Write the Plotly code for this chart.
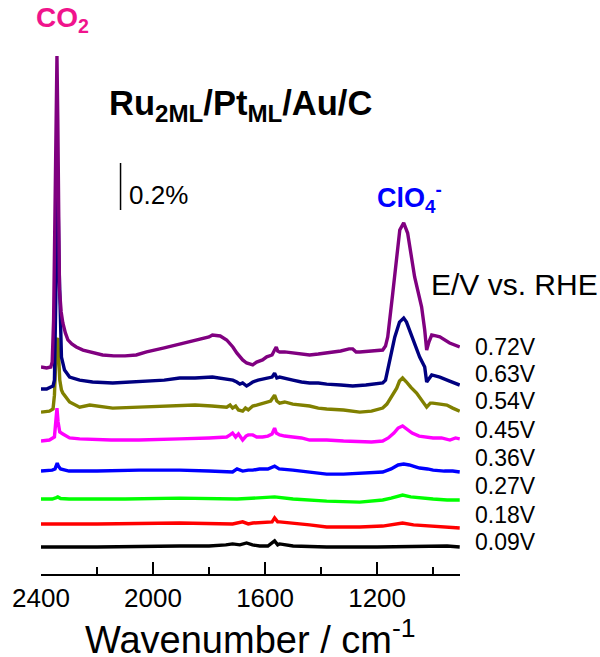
import plotly.graph_objects as go

# ---------------- data (relative signal in %, wavenumber in cm-1) ----------------
potentials = ["0.09V", "0.18V", "0.27V", "0.36V", "0.45V", "0.54V", "0.63V", "0.72V"]
colors = ["#000000", "#FF0000", "#00FF00", "#0000FF", "#FF00FF", "#808000", "#000080", "#800080"]
offsets = [0.115, 0.213, 0.319, 0.438, 0.566, 0.689, 0.787, 0.881]

wn_009 = [2400, 2200, 1905, 1800, 1740, 1716, 1690, 1666, 1645, 1619, 1590, 1566, 1555, 1548, 1500, 1380, 1200, 1050, 950, 905]
val_009 = [0, 0, 0.004, 0.004, 0.009, 0.013, 0.009, 0.017, 0.009, 0.004, 0.004, 0.026, 0.009, 0.013, 0.004, 0, 0, 0.004, 0.004, 0]

wn_018 = [2400, 2200, 1905, 1716, 1680, 1660, 1644, 1600, 1575, 1566, 1555, 1548, 1500, 1441, 1380, 1262, 1180, 1140, 1109, 1070, 1020, 960, 905]
val_018 = [0, 0, 0.004, 0, 0.009, 0, 0.004, 0.009, 0.009, 0.026, 0.009, 0.009, 0.004, -0.004, -0.013, -0.013, -0.009, 0, 0.004, -0.004, -0.009, -0.013, -0.017]

wn_027 = [2400, 2360, 2345, 2340, 2330, 2300, 2100, 1905, 1700, 1566, 1500, 1380, 1262, 1180, 1150, 1125, 1109, 1080, 1048, 1000, 950, 905]
val_027 = [0, 0, 0.006, 0.009, 0.002, 0, 0, 0.004, 0, 0.009, 0, -0.009, -0.013, -0.004, 0.004, 0.013, 0.017, 0.009, 0.004, 0, -0.004, -0.004]

wn_036 = [2400, 2360, 2350, 2345, 2342, 2338, 2330, 2300, 2200, 2050, 1905, 1800, 1716, 1700, 1680, 1660, 1644, 1620, 1590, 1566, 1550, 1501, 1441, 1380, 1320, 1262, 1220, 1180, 1150, 1125, 1105, 1085, 1060, 1048, 1020, 1000, 960, 930, 905]
val_036 = [0, 0.004, 0.009, 0.026, 0.034, 0.021, 0.009, 0, 0, 0.004, 0.004, 0, -0.004, 0.009, 0, 0.004, 0.004, 0.009, 0.009, 0.021, 0.009, 0.004, -0.004, -0.013, -0.013, -0.009, -0.009, -0.004, 0.009, 0.026, 0.030, 0.026, 0.017, 0.013, 0.009, 0.004, 0, 0, -0.004]

wn_045 = [2400, 2370, 2352, 2347, 2343, 2339, 2333, 2322, 2298, 2262, 2150, 2050, 1960, 1905, 1800, 1737, 1725, 1716, 1705, 1695, 1680, 1668, 1660, 1644, 1630, 1609, 1590, 1575, 1566, 1560, 1548, 1530, 1501, 1470, 1441, 1410, 1380, 1320, 1262, 1220, 1180, 1160, 1140, 1125, 1109, 1095, 1075, 1050, 1023, 1000, 970, 940, 920, 905]
val_045 = [0, 0.004, 0.017, 0.068, 0.140, 0.081, 0.038, 0.030, 0.013, 0.009, 0.004, 0.004, 0.009, 0.009, 0.013, 0.017, 0.026, 0.034, 0.017, 0.030, 0.004, 0.021, 0.026, 0.026, 0.017, 0.017, 0.021, 0.030, 0.055, 0.034, 0.026, 0.021, 0.017, 0.013, 0.004, 0.004, 0.004, 0, -0.004, -0.004, 0, 0.013, 0.034, 0.055, 0.064, 0.051, 0.034, 0.021, 0.017, 0.013, 0.013, 0.004, 0.013, 0.009]

wn_054 = [2400, 2370, 2357, 2352, 2348, 2344, 2340, 2337, 2333, 2327, 2322, 2298, 2262, 2226, 2144, 2050, 1960, 1905, 1850, 1790, 1737, 1725, 1716, 1705, 1695, 1680, 1670, 1660, 1644, 1630, 1619, 1600, 1580, 1566, 1558, 1548, 1530, 1501, 1470, 1441, 1410, 1380, 1320, 1262, 1220, 1180, 1165, 1145, 1130, 1120, 1109, 1095, 1080, 1059, 1040, 1023, 1010, 1001, 975, 951, 930, 905]
val_054 = [0, 0.004, 0.013, 0.072, 0.200, 0.306, 0.315, 0.221, 0.136, 0.094, 0.081, 0.043, 0.021, 0.030, 0.017, 0.021, 0.026, 0.026, 0.030, 0.026, 0.021, 0.030, 0.017, 0.026, 0.009, 0.004, 0.017, 0.009, 0.026, 0.030, 0.034, 0.038, 0.047, 0.072, 0.047, 0.038, 0.043, 0.034, 0.030, 0.026, 0.017, 0.013, 0.009, 0, 0.004, 0.017, 0.034, 0.077, 0.102, 0.132, 0.145, 0.128, 0.106, 0.081, 0.051, 0.021, 0.038, 0.038, 0.034, 0.030, 0.017, 0.004]

wn_063 = [2400, 2380, 2365, 2357, 2352, 2348, 2344, 2340, 2336, 2332, 2327, 2316, 2298, 2262, 2216, 2144, 2080, 2023, 1960, 1905, 1850, 1788, 1737, 1715, 1701, 1690, 1680, 1666, 1655, 1644, 1625, 1594, 1575, 1566, 1558, 1548, 1530, 1501, 1470, 1441, 1410, 1380, 1330, 1287, 1240, 1180, 1170, 1162, 1150, 1137, 1120, 1105, 1095, 1084, 1066, 1048, 1030, 1023, 1005, 976, 941, 905]
val_063 = [0, 0, 0.009, 0.013, 0.038, 0.294, 0.677, 0.889, 0.549, 0.294, 0.136, 0.081, 0.051, 0.038, 0.030, 0.026, 0.030, 0.034, 0.038, 0.047, 0.047, 0.051, 0.043, 0.038, 0.030, 0.021, 0.026, 0.013, 0.021, 0.030, 0.038, 0.047, 0.051, 0.068, 0.047, 0.051, 0.047, 0.038, 0.030, 0.026, 0.026, 0.021, 0.017, 0.013, 0.017, 0.026, 0.038, 0.081, 0.145, 0.221, 0.285, 0.302, 0.285, 0.251, 0.187, 0.136, 0.094, 0.030, 0.060, 0.051, 0.034, 0.017]

wn_072 = [2400, 2380, 2365, 2360, 2355, 2350, 2346, 2343, 2340, 2337, 2334, 2328, 2322, 2313, 2304, 2290, 2274, 2250, 2226, 2180, 2140, 2100, 2060, 2023, 1960, 1905, 1850, 1800, 1788, 1760, 1737, 1715, 1701, 1690, 1680, 1666, 1655, 1644, 1630, 1609, 1594, 1575, 1566, 1560, 1555, 1548, 1530, 1501, 1470, 1441, 1410, 1380, 1330, 1300, 1287, 1275, 1262, 1220, 1180, 1170, 1162, 1144, 1130, 1119, 1105, 1091, 1066, 1041, 1030, 1023, 1015, 1005, 990, 976, 941, 905]
val_072 = [0, -0.004, 0, 0.021, 0.200, 0.711, 1.179, 1.323, 1.051, 0.583, 0.328, 0.234, 0.187, 0.145, 0.115, 0.098, 0.085, 0.072, 0.064, 0.051, 0.047, 0.047, 0.051, 0.064, 0.081, 0.098, 0.115, 0.128, 0.136, 0.132, 0.115, 0.085, 0.060, 0.043, 0.030, 0.017, 0.013, 0.009, 0.021, 0.030, 0.043, 0.051, 0.072, 0.085, 0.068, 0.064, 0.064, 0.060, 0.055, 0.051, 0.055, 0.060, 0.068, 0.077, 0.077, 0.064, 0.064, 0.068, 0.072, 0.089, 0.128, 0.315, 0.477, 0.583, 0.613, 0.570, 0.383, 0.255, 0.157, 0.072, 0.106, 0.136, 0.132, 0.128, 0.102, 0.085]

wavenumbers = [wn_009, wn_018, wn_027, wn_036, wn_045, wn_054, wn_063, wn_072]
values = [val_009, val_018, val_027, val_036, val_045, val_054, val_063, val_072]

x_ticks = [2400, 2000, 1600, 1200]
x_minor_ticks = [2200, 1800, 1400, 1000]

# label positions (layout)
label_y = [0.138, 0.251, 0.374, 0.494, 0.613, 0.736, 0.853, 0.968]

FONT = "Liberation Sans, Arial, sans-serif"
X_RANGE = [2400, 904]

fig = go.Figure()
for wn, val, off, col in zip(wavenumbers, values, offsets, colors):
    fig.add_trace(go.Scatter(x=wn, y=[v + off for v in val], mode="lines",
                             line=dict(color=col, width=3.4), showlegend=False,
                             hoverinfo="skip"))
# invisible helper trace so the overlay axis (minor ticks) is drawn
fig.add_trace(go.Scatter(x=[x_ticks[0]], y=[0], xaxis="x2", mode="markers",
                         marker=dict(opacity=0), showlegend=False, hoverinfo="skip"))

fig.update_layout(width=600, height=657, margin=dict(l=41, r=140, t=50, b=83, autoexpand=False),
                  plot_bgcolor="white", paper_bgcolor="white", showlegend=False,
                  font=dict(family=FONT, color="black"))

fig.update_layout(
    xaxis=dict(range=X_RANGE, showline=True, linecolor="black", linewidth=2,
               ticks="inside", ticklen=12, tickwidth=2, tickcolor="black",
               tickmode="array", tickvals=x_ticks, ticktext=[str(t) for t in x_ticks],
               showgrid=False, zeroline=False, automargin=False,
               tickfont=dict(family=FONT, size=26, color="black")),
    xaxis2=dict(range=X_RANGE, overlaying="x", side="bottom", anchor="y",
                showline=False, ticks="inside", ticklen=7, tickwidth=2, tickcolor="black",
                tickmode="array", tickvals=x_minor_ticks, showticklabels=False,
                showgrid=False, zeroline=False, automargin=False),
    yaxis=dict(visible=False, range=[0, 2.2298], fixedrange=True, automargin=False),
)

# scale bar 0.2 %
fig.add_shape(type="line", xref="x", yref="y", x0=2116, x1=2116, y0=1.549, y1=1.749,
              line=dict(color="black", width=1.5))

ann = []
ann.append(dict(text="Wavenumber / cm<sup>-1</sup>", xref="paper", yref="paper", x=0.5,
                y=(574 - 637) / 524, xanchor="center", yanchor="middle", showarrow=False,
                font=dict(family=FONT, size=38, color="black")))
ann.append(dict(text="<b>CO<sub>2</sub></b>", xref="paper", yref="paper", x=-0.017, y=1.058,
                xanchor="left", yanchor="middle", showarrow=False,
                font=dict(family=FONT, size=28, color="#F0148C")))
ann.append(dict(text="<b>Ru<sub>2ML</sub>/Pt<sub>ML</sub>/Au/C</b>", xref="paper", yref="paper",
                x=0.1575, y=0.895, xanchor="left", yanchor="middle", showarrow=False,
                font=dict(family=FONT, size=34.5, color="black")))
ann.append(dict(text="0.2%", xref="paper", yref="paper", x=0.2053, y=(574 - 195) / 524,
                xanchor="left", yanchor="middle", showarrow=False,
                font=dict(family=FONT, size=26, color="black")))
ann.append(dict(text="<b>ClO<sub>4</sub><sup>-</sup></b>", xref="paper", yref="paper",
                x=0.797, y=(574 - 198) / 524, xanchor="left", yanchor="middle", showarrow=False,
                font=dict(family=FONT, size=27, color="#0000FF")))
ann.append(dict(text="E/V vs. RHE", xref="paper", yref="paper", x=0.926, y=(574 - 284) / 524,
                xanchor="left", yanchor="middle", showarrow=False,
                font=dict(family=FONT, size=30, color="black")))
for lab, ly in zip(potentials, label_y):
    ann.append(dict(text=lab, xref="paper", yref="y", x=1.031, y=ly, xanchor="left",
                    yanchor="middle", showarrow=False,
                    font=dict(family=FONT, size=23, color="black")))
fig.update_layout(annotations=ann)

fig.write_html("out.html")
